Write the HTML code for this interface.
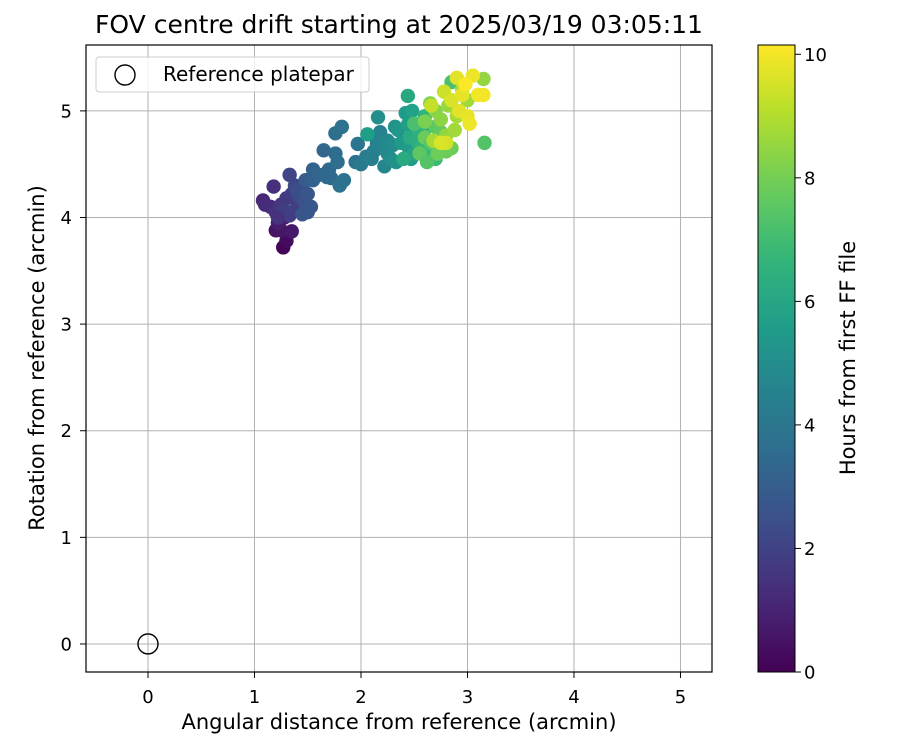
<!DOCTYPE html>
<html><head><meta charset="utf-8"><style>
body{margin:0;background:#fff;font-family:"Liberation Sans","DejaVu Sans",sans-serif}
svg text{font-family:"DejaVu Sans","Liberation Sans",sans-serif}
</style></head><body>
<svg id="c" width="900" height="750" xmlns="http://www.w3.org/2000/svg"></svg>
<script>
const xs=[1.27,1.3,1.2,1.25,1.35,1.22,1.28,
1.08,1.1,1.15,1.18,1.2,1.25,1.3,1.33,1.35,1.28,1.4,1.22,
1.33,1.38,1.42,1.45,1.47,1.5,1.45,1.53,1.48,1.4,1.5,
1.55,1.55,1.6,1.65,1.68,1.7,1.72,1.76,1.76,1.78,1.82,1.8,1.84,1.95,1.97,1.68,
2.0,2.05,2.1,2.12,2.15,2.18,2.2,2.22,2.25,2.25,2.28,2.16,2.3,
2.06,2.32,2.35,2.38,2.42,2.45,2.47,2.44,2.48,2.5,2.33,
2.44,2.46,2.52,2.55,2.58,2.6,2.62,2.56,2.65,2.4,2.7,
2.5,2.55,2.6,2.62,2.66,2.7,2.75,2.8,2.72,2.85,3.16,2.85,
2.6,2.65,2.7,2.75,2.8,2.82,2.88,2.9,2.95,3.15,3.0,2.68,
2.78,2.8,2.85,2.9,2.92,2.95,3.0,3.02,3.05,3.1,3.15,2.98,2.75,2.66];
const ys=[3.72,3.78,3.88,3.88,3.87,3.95,4.0,
4.16,4.12,4.1,4.29,4.05,4.12,4.18,4.02,4.22,4.07,4.1,4.0,
4.4,4.3,4.2,4.28,4.15,4.05,4.03,4.1,4.35,4.25,4.22,
4.35,4.45,4.4,4.63,4.38,4.45,4.37,4.6,4.79,4.52,4.85,4.3,4.35,4.52,4.69,4.42,
4.5,4.57,4.55,4.62,4.7,4.8,4.65,4.48,4.6,4.72,4.55,4.94,4.68,
4.78,4.85,4.82,4.7,4.98,4.65,4.55,4.87,5.0,4.6,4.52,
5.14,4.75,4.72,4.8,4.68,4.95,4.85,4.62,4.58,4.55,4.55,
4.88,4.6,4.75,4.52,4.7,4.85,4.8,4.62,4.6,5.27,4.7,4.65,
4.9,5.07,5.0,4.92,4.77,5.05,4.82,4.95,5.2,5.3,5.1,4.72,
5.18,4.7,5.1,5.31,5.0,5.15,4.95,4.88,5.33,5.15,5.15,5.25,4.7,5.05];
const hours=[0.1,0.3,0.5,0.6,0.7,0.8,0.9,
1.1,1.2,1.3,1.4,1.5,1.6,1.7,1.8,1.8,1.9,1.9,1.5,
2.1,2.2,2.3,2.4,2.5,2.6,2.7,2.8,2.9,2.4,2.7,
3.1,3.2,3.3,3.3,3.4,3.5,3.5,3.6,3.7,3.7,3.8,3.8,3.9,3.9,4.0,3.4,
4.1,4.2,4.3,4.4,4.5,4.5,4.6,4.7,4.8,4.8,4.9,5.0,4.9,
5.7,5.2,5.3,5.4,5.5,5.5,5.6,5.7,5.8,5.9,5.2,
6.1,6.2,6.3,6.4,6.5,6.6,6.7,6.8,6.9,6.2,6.9,
7.2,7.6,7.8,7.4,7.5,7.6,7.7,7.8,7.9,7.2,7.4,7.9,
8.1,8.2,8.3,8.4,8.5,8.6,8.7,8.8,8.9,8.5,8.7,8.8,
9.4,9.5,9.6,9.7,9.7,9.8,9.8,9.9,9.9,10.0,10.0,10.1,9.6,9.3];
const xTicks=[0,1,2,3,4,5];
const yTicks=[0,1,2,3,4,5];
const cTicks=[0,2,4,6,8,10];

const NS="http://www.w3.org/2000/svg";
const svg=document.getElementById('c');
const L=86,R=712,T=45,B=672;
const xMin=-0.582,xMax=5.296,yMin=-0.263,yMax=5.618;
const sx=v=>L+(v-xMin)/(xMax-xMin)*(R-L);
const sy=v=>B-(v-yMin)/(yMax-yMin)*(B-T);
const cMax=10.15;
const sc=v=>B-v/cMax*(B-T);
function el(t,a,p){const e=document.createElementNS(NS,t);for(const k in a)e.setAttribute(k,a[k]);(p||svg).appendChild(e);return e;}
const vir=[[68,1,84],[72,40,120],[62,74,137],[49,104,142],[38,130,142],[31,158,137],[53,183,121],[109,205,89],[180,222,44],[253,231,37]];
function viridis(t){t=Math.max(0,Math.min(1,t))*(vir.length-1);const i=Math.min(Math.floor(t),vir.length-2),f=t-i;const a=vir[i],b=vir[i+1];return `rgb(${a.map((v,k)=>Math.round(v+(b[k]-v)*f)).join(',')})`;}

xTicks.forEach(v=>{const g=el('line',{x1:sx(v),x2:sx(v),y1:T,y2:B,stroke:'#b0b0b0','stroke-width':1});});
yTicks.forEach(v=>{const g=el('line',{x1:L,x2:R,y1:sy(v),y2:sy(v),stroke:'#b0b0b0','stroke-width':1});});
const pg=el('g',{});
xs.forEach((x,i)=>{const c=el('circle',{cx:sx(x),cy:sy(ys[i]),r:7.2,fill:viridis(hours[i]/cMax)},pg);

});
const rc=el('circle',{cx:sx(0),cy:sy(0),r:10,fill:'none',stroke:'#000','stroke-width':1.4});


const fr=el('rect',{x:L,y:T,width:R-L,height:B-T,fill:'none',stroke:'#000','stroke-width':1.2});

xTicks.forEach(v=>{el('line',{x1:sx(v),x2:sx(v),y1:B,y2:B+6,stroke:'#000'});const t=el('text',{x:sx(v),y:703,'font-size':18,'text-anchor':'middle'});t.textContent=v;
});
yTicks.forEach(v=>{el('line',{x1:L-6,x2:L,y1:sy(v),y2:sy(v),stroke:'#000'});const t=el('text',{x:L-14,y:sy(v)+6.5,'font-size':18,'text-anchor':'end'});t.textContent=v;
});
const CL=758,CR=795;
const defs=el('defs',{});const lg=el('linearGradient',{id:'vg',x1:0,y1:1,x2:0,y2:0},defs);
for(let i=0;i<=20;i++){el('stop',{offset:i/20,'stop-color':viridis(i/20)},lg);}
const cb=el('rect',{x:CL,y:T,width:CR-CL,height:B-T,fill:'url(#vg)',stroke:'#000','stroke-width':1});

cTicks.forEach(v=>{el('line',{x1:CR,x2:CR+6,y1:sc(v),y2:sc(v),stroke:'#000'});const t=el('text',{x:CR+9,y:sc(v)+6.5,'font-size':18});t.textContent=v;
});
</script>
<svg width="900" height="750" style="position:absolute;left:0;top:0">
<text x="399" y="33" font-size="25" text-anchor="middle">FOV centre drift starting at 2025/03/19 03:05:11</text>
<text x="399" y="729" font-size="21" text-anchor="middle">Angular distance from reference (arcmin)</text>
<text transform="translate(44,358) rotate(-90)" font-size="21" text-anchor="middle">Rotation from reference (arcmin)</text>
<text transform="translate(855,358) rotate(-90)" font-size="21" text-anchor="middle">Hours from first FF file</text>
<g>
<rect x="96" y="57" width="273" height="35" rx="3" fill="#fff" fill-opacity="0.8" stroke="#ccc"/>
<circle cx="125" cy="75" r="10" fill="none" stroke="#000" stroke-width="1.4"/>
<text x="163" y="81" font-size="20">Reference platepar</text>
</g>
</svg>
</body></html>
